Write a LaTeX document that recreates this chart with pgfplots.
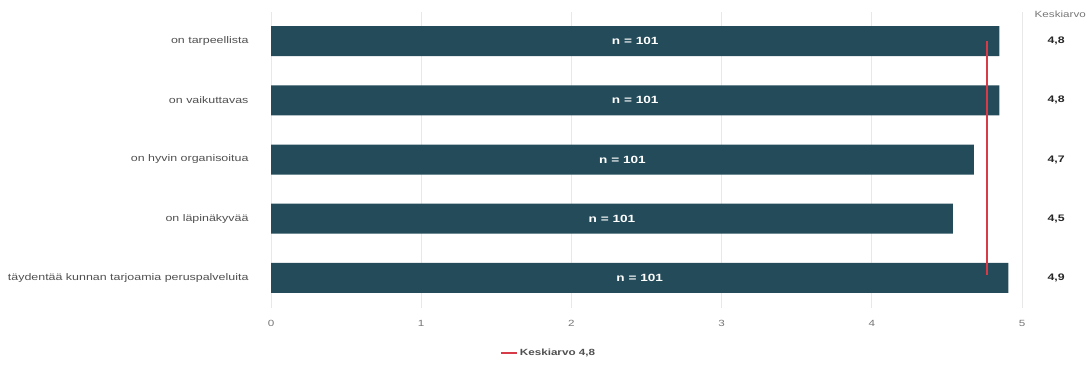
\documentclass[border=0pt]{standalone}
\usepackage{fontspec}
\setmainfont{Liberation Sans}[FakeStretch=1.3]
\usepackage{pgfplots}
\usepackage{pgfplotstable}
\pgfplotsset{compat=1.18}
\definecolor{barc}{HTML}{244B5A}
\definecolor{redl}{HTML}{D63B47}
\definecolor{gridc}{HTML}{E8E8E8}
\definecolor{labc}{HTML}{505050}
\definecolor{tickc}{HTML}{777777}
\pgfplotstableread{
y v lab
0 4.85 4,8
1 4.85 4,8
2 4.68 4,7
3 4.54 4,5
4 4.91 4,9
}\data
\begin{document}
\begin{tikzpicture}
\begin{axis}[
  at={(271bp,57.5bp)}, anchor=south west,
  scale only axis, width=751bp, height=296bp,
  xmin=0, xmax=5, ymin=-0.5, ymax=4.5, y dir=reverse,
  xtick={0,1,2,3,4,5},
  ytick={0,1,2,3,4},
  yticklabels={on tarpeellista, on vaikuttavas, on hyvin organisoitua, on läpinäkyvää, täydentää kunnan tarjoamia peruspalveluita},
  major tick length=0pt,
  axis line style={draw=none},
  xmajorgrids, major grid style={gridc, line width=0.8bp},
  yticklabel style={font=\fontsize{9.6}{10}\selectfont, text=labc, xshift=-19bp},
  xticklabel style={font=\fontsize{9}{10}\selectfont, text=tickc, yshift=-9bp},
  /pgf/number format/assume math mode=true,
  clip=false,
  legend style={at={(0.3695,-0.154)}, anchor=center, draw=none, fill=none,
    font=\fontsize{9}{10}\selectfont\bfseries, text=labc},
  legend image code/.code={\draw[#1] (0bp,0bp) -- (16bp,0bp);},
]
\addplot[xbar, bar width=30bp, fill=barc, draw=none, forget plot] table[x=v, y=y]{\data};
\addplot[draw=none, mark=none, forget plot,
  nodes near coords={n = 101},
  nodes near coords style={anchor=center, text=white, font=\fontsize{10.5}{10}\selectfont\bfseries}]
  table[x expr=\thisrow{v}/2, y=y]{\data};
\addplot[draw=none, mark=none, forget plot,
  nodes near coords, point meta=explicit symbolic,
  nodes near coords style={anchor=center, text=black!85, font=\fontsize{9.5}{10}\selectfont\bfseries}]
  table[x expr=5.227, y=y, meta=lab]{\data};
\addplot[draw=redl, color=redl, line width=2bp, mark=none, sharp plot] coordinates {(4.77,0) (4.77,3.95)};
\addlegendentry{Keskiarvo 4,8}
\node[font=\fontsize{9}{10}\selectfont, text=tickc] at (axis cs:5.255,-0.46) {Keskiarvo};
\end{axis}
\pgfresetboundingbox
\useasboundingbox (0,0) rectangle (1089bp,365bp);
\end{tikzpicture}
\end{document}
